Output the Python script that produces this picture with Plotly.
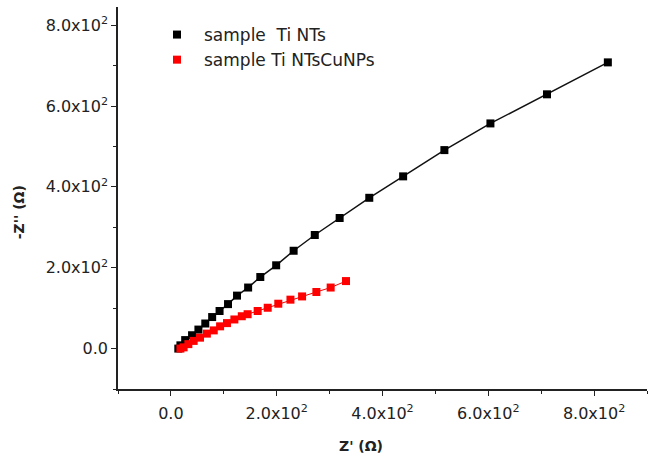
import plotly.graph_objects as go

# Data
ti_x = [14, 18, 27, 40, 52, 65, 78, 92, 108, 125, 146, 169, 199, 232, 272, 319, 375, 439, 517, 604, 711, 826]
ti_y = [0, 8, 21, 33, 47, 62, 78, 93, 110, 131, 151, 177, 206, 242, 281, 323, 373, 426, 491, 557, 629, 708]

cu_x = [18, 24, 33, 43, 55, 68, 81, 93, 106, 120, 134, 145, 164, 183, 203, 226, 248, 275, 302, 331]
cu_y = [0, 3, 11, 19, 27, 37, 45, 55, 63, 72, 80, 85, 93, 101, 111, 121, 129, 140, 151, 167]

tick_vals = [0, 200, 400, 600, 800]
tick_text = ["0.0", "2.0x10<sup>2</sup>", "4.0x10<sup>2</sup>", "6.0x10<sup>2</sup>", "8.0x10<sup>2</sup>"]

name_ti = "sample\u00a0\u00a0Ti NTs"
name_cu = "sample Ti NTsCuNPs"

FONT = "DejaVu Sans"

fig = go.Figure()
fig.add_trace(go.Scatter(x=ti_x, y=ti_y, mode="lines", line=dict(color="#111111", width=1.5),
                         showlegend=False, hoverinfo="skip"))
fig.add_trace(go.Scatter(x=cu_x, y=cu_y, mode="lines", line=dict(color="#ff0000", width=1),
                         showlegend=False, hoverinfo="skip"))
fig.add_trace(go.Scatter(x=ti_x, y=ti_y, mode="markers", name=name_ti,
                         marker=dict(symbol="square", size=8, color="#000000")))
fig.add_trace(go.Scatter(x=cu_x, y=cu_y, mode="markers", name=name_cu,
                         marker=dict(symbol="square", size=8, color="#ff0000")))

axis_common = dict(
    showline=True, linecolor="#222222", linewidth=1.5, mirror=False,
    showgrid=False, zeroline=False,
    ticks="outside", ticklen=5, tickwidth=1.2, tickcolor="#222222",
    tickmode="array", tickvals=tick_vals, ticktext=tick_text,
    tickfont=dict(family=FONT, size=16, color="#222222"),
    minor=dict(ticks="outside", ticklen=3, tickwidth=1.2, tickcolor="#222222", dtick=100, tick0=0, showgrid=False),
)

fig.update_layout(
    width=650, height=457,
    margin=dict(l=118, r=3, t=7, b=68),
    paper_bgcolor="white", plot_bgcolor="white",
    xaxis=dict(range=[-100, 900], ticklabelstandoff=4, **axis_common),
    yaxis=dict(range=[-100, 845], **axis_common),
    legend=dict(x=(150 - 118) / 529, y=(388.5 - 17) / 381.5, xanchor="left", yanchor="top",
                itemwidth=44,
                bgcolor="rgba(0,0,0,0)", borderwidth=0,
                font=dict(family=FONT, size=17, color="#222222")),
    font=dict(family=FONT, color="#222222"),
    annotations=[
        dict(text="<b>Z' (Ω)</b>", xref="paper", yref="paper", x=(361 - 118) / 529, y=-(445 - 388.5) / 381.5,
             xanchor="center", yanchor="middle", showarrow=False,
             font=dict(family=FONT, size=14, color="#222222")),
        dict(text="<b>-Z'' (Ω)</b>", xref="paper", yref="paper", x=-(118 - 19) / 529, y=(388.5 - 212) / 381.5,
             xanchor="center", yanchor="middle", showarrow=False, textangle=-90,
             font=dict(family=FONT, size=14, color="#222222")),
    ],
)

fig.write_html("out.html")
